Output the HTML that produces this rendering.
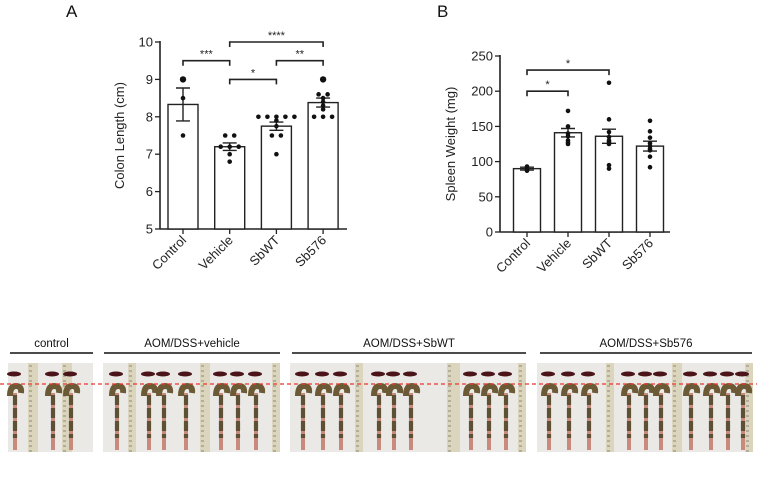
<!DOCTYPE html>
<html><head><meta charset="utf-8"><style>
body{margin:0;background:#fff;width:780px;height:479px;overflow:hidden;font-family:"Liberation Sans",sans-serif}
svg{position:absolute;left:0;top:0}
</style></head><body>
<svg id="s" width="780" height="479" xmlns="http://www.w3.org/2000/svg" font-family="Liberation Sans, sans-serif">
<text x="66" y="17" font-size="17" fill="#111">A</text>
<text x="437" y="17" font-size="17" fill="#111">B</text>
<g id="ga"></g>
<g id="gb"></g>
<g id="photos"></g>
</svg>
<script>
const categories=["Control","Vehicle","SbWT","Sb576"];
const colonMeans=[8.33,7.2,7.75,8.38];
const colonErr=[0.44,0.1,0.11,0.12];
const colonPoints=[[9.0,8.5,7.5],[7.5,7.5,7.2,7.2,7.2,7.0,6.8],[8,8,8,8,8,7.9,7.75,7.5,7.5,7.0],[9.0,8.6,8.6,8.5,8.4,8.3,8.0,8.0,8.0,8.2]];
const colonTicks=[5,6,7,8,9,10];
const colonSig=[[0,1,9.5,"***"],[1,3,10.0,"****"],[1,2,9.0,"*"],[2,3,9.5,"**"]];
const spleenMeans=[90,141,136,122];
const spleenErr=[2,6,10,7];
const spleenPoints=[[93,92,88,87],[172,150,140,136,130,125,127],[212,160,142,135,130,128,125,95,90],[158,143,134,126,122,118,116,107,92]];
const spleenTicks=[0,50,100,150,200,250];
const spleenSig=[[0,1,200,"*"],[0,2,230,"*"]];
const NS="http://www.w3.org/2000/svg";
function mk(p,t,a){const e=document.createElementNS(NS,t);for(const k in a)e.setAttribute(k,a[k]);p.appendChild(e);return e;}
function chart(g,o){
 const y=v=>o.y0-(v-o.min)/(o.max-o.min)*(o.y0-o.y1);
 const x=i=>o.xs+i*o.step;
 mk(g,"line",{x1:o.ax,y1:o.y1-1,x2:o.ax,y2:o.y0,stroke:"#222","stroke-width":1.6});
 mk(g,"line",{x1:o.ax,y1:o.y0,x2:o.axEnd,y2:o.y0,stroke:"#222","stroke-width":1.6});
 o.ticks.forEach(t=>{
  const l=mk(g,"line",{x1:o.ax-5,y1:y(t),x2:o.ax,y2:y(t),stroke:"#222","stroke-width":1.3});
  
  
  const tx=mk(g,"text",{x:o.ax-7,y:y(t)+4.5,"font-size":13,"text-anchor":"end",fill:"#222"});tx.textContent=t;
  
  
 });
 const tt=mk(g,"text",{transform:`translate(${o.tx},${(o.y0+o.y1)/2}) rotate(-90)`,"font-size":13,"text-anchor":"middle",fill:"#222"});tt.textContent=o.title;
 
 
 categories.forEach((c,i)=>{
  const cx=x(i);
  const b=mk(g,"rect",{x:cx-o.bw/2,y:y(o.means[i]),width:o.bw,height:o.y0-y(o.means[i]),fill:"#fff",stroke:"#222","stroke-width":1.4});
  
  
  mk(g,"line",{x1:cx,y1:o.y0,x2:cx,y2:o.y0+5,stroke:"#222","stroke-width":1.3});
  const lb=mk(g,"text",{transform:`translate(${cx+4},${o.y0+12}) rotate(-45)`,"font-size":13,"text-anchor":"end",fill:"#222"});lb.textContent=c;
  
  
  const e=o.err[i],m=o.means[i];
  const eb=mk(g,"path",{d:`M${cx},${y(m+e)}V${y(m-e)}M${cx-7},${y(m+e)}H${cx+7}M${cx-7},${y(m-e)}H${cx+7}`,stroke:"#222","stroke-width":1.4,fill:"none"});
  
  
  const cnt={};
  o.pts[i].forEach(v=>{const k=v.toFixed(2);cnt[k]=(cnt[k]||0)+1;});
  const used={};
  o.pts[i].forEach(v=>{const k=v.toFixed(2);const n=cnt[k];const j=used[k]=(used[k]||0)+1;const off=(j-1-(n-1)/2)*o.jit;
   const d=mk(g,"circle",{cx:cx+off,cy:y(v),r:v===o.big?3.2:2.3,fill:"#111"});
   
   });
 });
 o.sig.forEach(s=>{
  const yy=y(s[2]);
  const br=mk(g,"path",{d:`M${x(s[0])},${yy+5}V${yy}H${x(s[1])}V${yy+5}`,stroke:"#222","stroke-width":1.6,fill:"none"});
  
  
  const st=mk(g,"text",{x:(x(s[0])+x(s[1]))/2,y:yy-3,"font-size":11,"text-anchor":"middle",fill:"#222"});st.textContent=s[3];
  
  
 });
}
chart(document.getElementById("ga"),{min:5,max:10,y0:229,y1:42,ax:160,axEnd:347,xs:183,step:46.7,bw:30,tx:124,title:"Colon Length (cm)",ticks:colonTicks,means:colonMeans,err:colonErr,pts:colonPoints,sig:colonSig,jit:9,big:9.0});
chart(document.getElementById("gb"),{min:0,max:250,y0:232,y1:56,ax:500,axEnd:670,xs:527,step:41,bw:27,tx:455,title:"Spleen Weight (mg)",ticks:spleenTicks,means:spleenMeans,err:spleenErr,pts:spleenPoints,sig:spleenSig,jit:6,big:-1});
const P=document.getElementById("photos");
const groups=[["control",10,93],["AOM/DSS+vehicle",104,280],["AOM/DSS+SbWT",292,526],["AOM/DSS+Sb576",540,752]];
groups.forEach(g=>{
 const t=mk(P,"text",{x:(g[1]+g[2])/2,y:347,"font-size":11.5,"text-anchor":"middle",fill:"#111"});t.textContent=g[0];
 
 
 mk(P,"line",{x1:g[1],y1:353,x2:g[2],y2:353,stroke:"#111","stroke-width":1.5});
});
const panels=[[8,93,[[28,38],[62,72]],[14,52,70]],[103,280,[[128,136],[200,210],[272,280]],[116,148,163,185,220,237,255]],[290,526,[[355,363],[447,460],[518,526]],[302,322,340,378,393,410,470,488,505]],[537,753,[[606,614],[672,682],[745,753]],[548,568,588,628,645,660,690,710,727,742]]];
panels.forEach(p=>{
 const r=mk(P,"rect",{x:p[0],y:363,width:p[1]-p[0],height:89,fill:"#ebe9e6"});
 
 
 p[2].forEach(q=>{mk(P,"rect",{x:q[0],y:363,width:q[1]-q[0],height:89,fill:"#dcd5bd"});
  for(let yy=366;yy<452;yy+=5)mk(P,"line",{x1:q[0]+1,y1:yy,x2:q[0]+4,y2:yy,stroke:"#6b6552","stroke-width":0.7});});
 p[3].forEach(cx=>{
  mk(P,"ellipse",{cx:cx,cy:374,rx:7,ry:2.5,fill:"#4a1418"});
  mk(P,"path",{d:`M${cx-4},${396}q0,-10 6,-10q6,0 5,7`,stroke:"#6b5a35","stroke-width":6,fill:"none"});
  mk(P,"line",{x1:cx+1,y1:393,x2:cx+1,y2:450,stroke:"#c98a7e","stroke-width":4});
  mk(P,"line",{x1:cx+1,y1:395,x2:cx+1,y2:438,stroke:"#5e5035","stroke-width":4.2,"stroke-dasharray":"10 3"});
 });
});
const dl=mk(P,"line",{x1:0,y1:384,x2:757,y2:384,stroke:"#e8372e","stroke-width":1.2,"stroke-dasharray":"4 3"});


</script>
</body></html>
